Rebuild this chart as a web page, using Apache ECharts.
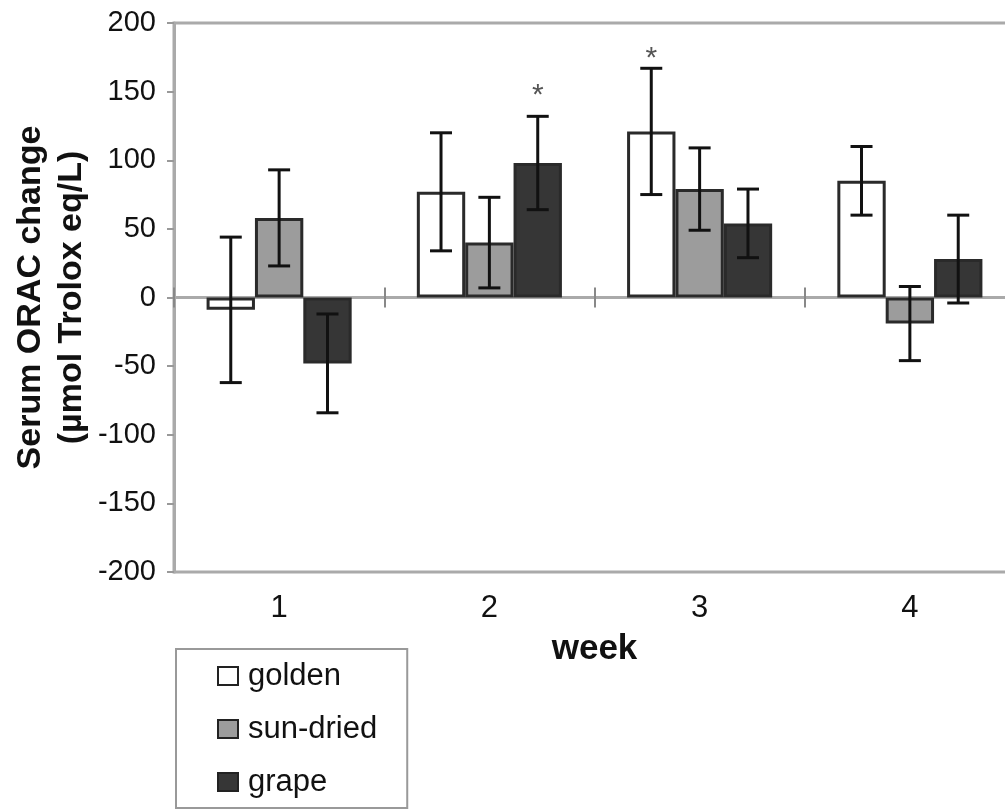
<!DOCTYPE html>
<html>
<head>
<meta charset="utf-8">
<script src="https://cdn.jsdelivr.net/npm/echarts@6/dist/echarts.min.js"></script>
<style>
html,body{margin:0;padding:0;background:#fff;}
#chart{width:1005px;height:810px;}
</style>
</head>
<body>
<div id="chart"></div>
<script>
// ---- data ----
const weeks = ['1', '2', '3', '4'];
const groups = ['golden', 'sun-dried', 'grape'];
const golden = [-9, 77, 121, 85];
const sunDried = [58, 40, 79, -19];
const grape = [-48, 98, 54, 28];
const goldenErr = [53, 43, 46, 25];
const sunDriedErr = [35, 33, 30, 27];
const grapeErr = [36, 34, 25, 32];
// significance stars: [week index, group index, value position]
const stars = [[1, 2, 152], [2, 0, 179]];
const yTicks = { min: -200, max: 200, interval: 50 };

const FONT = '"Liberation Sans", Arial, sans-serif';
const fills = ['#ffffff', '#9c9c9c', '#363636'];
const CAT_GAP = 0.31;

const values = [golden, sunDried, grape];
const errs = [goldenErr, sunDriedErr, grapeErr];

const errData = [];
weeks.forEach((w, i) => {
  groups.forEach((g, j) => {
    errData.push([i, j, values[j][i], errs[j][i]]);
  });
});

function barOffset(api, grp) {
  const band = api.size([1, 0])[0];
  const bw = band * (1 - CAT_GAP) / groups.length;
  return (grp - (groups.length - 1) / 2) * bw;
}

function renderErr(params, api) {
  const cat = api.value(0), grp = api.value(1), val = api.value(2), err = api.value(3);
  const x = api.coord([cat, 0])[0] + barOffset(api, grp);
  const yT = api.coord([cat, val + err])[1];
  const yB = api.coord([cat, val - err])[1];
  const cap = 11;
  const st = { stroke: '#111', lineWidth: 3 };
  return {
    type: 'group',
    children: [
      { type: 'line', shape: { x1: x, y1: yT, x2: x, y2: yB }, style: st },
      { type: 'line', shape: { x1: x - cap, y1: yT, x2: x + cap, y2: yT }, style: st },
      { type: 'line', shape: { x1: x - cap, y1: yB, x2: x + cap, y2: yB }, style: st }
    ]
  };
}

function renderStar(params, api) {
  const cat = api.value(0), grp = api.value(1), v = api.value(2);
  const x = api.coord([cat, 0])[0] + barOffset(api, grp);
  const y = api.coord([cat, v])[1] + 7;
  return {
    type: 'text',
    style: { text: '*', x: x, y: y, align: 'center', verticalAlign: 'middle',
      font: '30px ' + FONT, fill: '#555' }
  };
}

const chart = echarts.init(document.getElementById('chart'), null, { renderer: 'canvas' });

const barSeries = groups.map((g, j) => ({
  name: g,
  type: 'bar',
  xAxisIndex: 0,
  yAxisIndex: 0,
  data: values[j],
  barGap: '0%',
  barCategoryGap: (CAT_GAP * 100) + '%',
  itemStyle: { color: fills[j], borderColor: '#2a2a2a', borderWidth: 3 },
  emphasis: { disabled: true },
  z: 2
}));

const zeroAxisBase = {
  type: 'category',
  data: weeks,
  position: 'bottom',
  axisLabel: { show: false },
  splitLine: { show: false }
};

chart.setOption({
  animation: false,
  backgroundColor: '#fff',
  grid: {
    left: 174, right: -10, top: 23, bottom: 238,
    outerBoundsMode: 'none',
    containLabel: false,
    show: true, borderColor: '#aaaaaa', borderWidth: 3, backgroundColor: 'transparent'
  },
  legend: {
    orient: 'vertical',
    left: 176, top: 649,
    padding: [9, 30, 8, 41],
    borderColor: '#999', borderWidth: 2,
    itemGap: 17,
    itemWidth: 20, itemHeight: 18,
    selectedMode: false,
    icon: 'rect',
    textStyle: { fontSize: 31, lineHeight: 36, color: '#111', fontFamily: FONT, padding: [0, 0, 0, 5] },
    data: groups.map((g, j) => ({
      name: g,
      itemStyle: { color: fills[j], borderColor: '#222', borderWidth: 2 }
    }))
  },
  xAxis: [
    {
      type: 'category',
      data: weeks,
      position: 'bottom',
      axisLine: { show: false, onZero: false },
      axisTick: { show: false },
      axisLabel: { fontSize: 31, color: '#111', fontFamily: FONT, margin: 21 },
      name: 'week',
      nameLocation: 'middle',
      nameGap: 60,
      nameTextStyle: { fontSize: 35, fontWeight: 'bold', color: '#111', fontFamily: FONT }
    },
    Object.assign({}, zeroAxisBase, {
      axisLine: { show: true, onZero: true, onZeroAxisIndex: 0, lineStyle: { color: '#aaaaaa', width: 3 } },
      axisTick: { show: true, inside: false, length: 10, lineStyle: { color: '#888', width: 2 } }
    }),
    Object.assign({}, zeroAxisBase, {
      axisLine: { show: false, onZero: true, onZeroAxisIndex: 1 },
      axisTick: { show: true, inside: true, length: 10, lineStyle: { color: '#888', width: 2 } }
    })
  ],
  yAxis: [
    {
      type: 'value',
      min: yTicks.min, max: yTicks.max, interval: yTicks.interval,
      axisLine: { show: true, lineStyle: { color: '#aaaaaa', width: 3 } },
      axisTick: { show: true, length: 7, lineStyle: { color: '#999', width: 2 } },
      splitLine: { show: false },
      axisLabel: { fontSize: 29, color: '#111', fontFamily: FONT, margin: 18 },
      name: 'Serum ORAC change\n(µmol Trolox eq/L)',
      nameLocation: 'middle',
      nameRotate: 90,
      nameGap: 82,
      nameMoveOverlap: false,
      nameTextStyle: { fontSize: 34, fontWeight: 'bold', lineHeight: 41, color: '#111', fontFamily: FONT }
    },
    {
      type: 'value',
      min: yTicks.min, max: yTicks.max, interval: yTicks.interval,
      position: 'right',
      axisLine: { show: false },
      axisTick: { show: false },
      axisLabel: { show: false },
      splitLine: { show: false }
    }
  ],
  series: barSeries.concat([
    {
      type: 'custom',
      xAxisIndex: 0,
      yAxisIndex: 0,
      renderItem: renderErr,
      data: errData,
      encode: { x: 0, y: 2 },
      z: 5,
      silent: true
    },
    {
      type: 'custom',
      xAxisIndex: 0,
      yAxisIndex: 0,
      renderItem: renderStar,
      data: stars,
      encode: { x: 0, y: 2 },
      z: 6,
      silent: true
    }
  ])
});
</script>
</body>
</html>
